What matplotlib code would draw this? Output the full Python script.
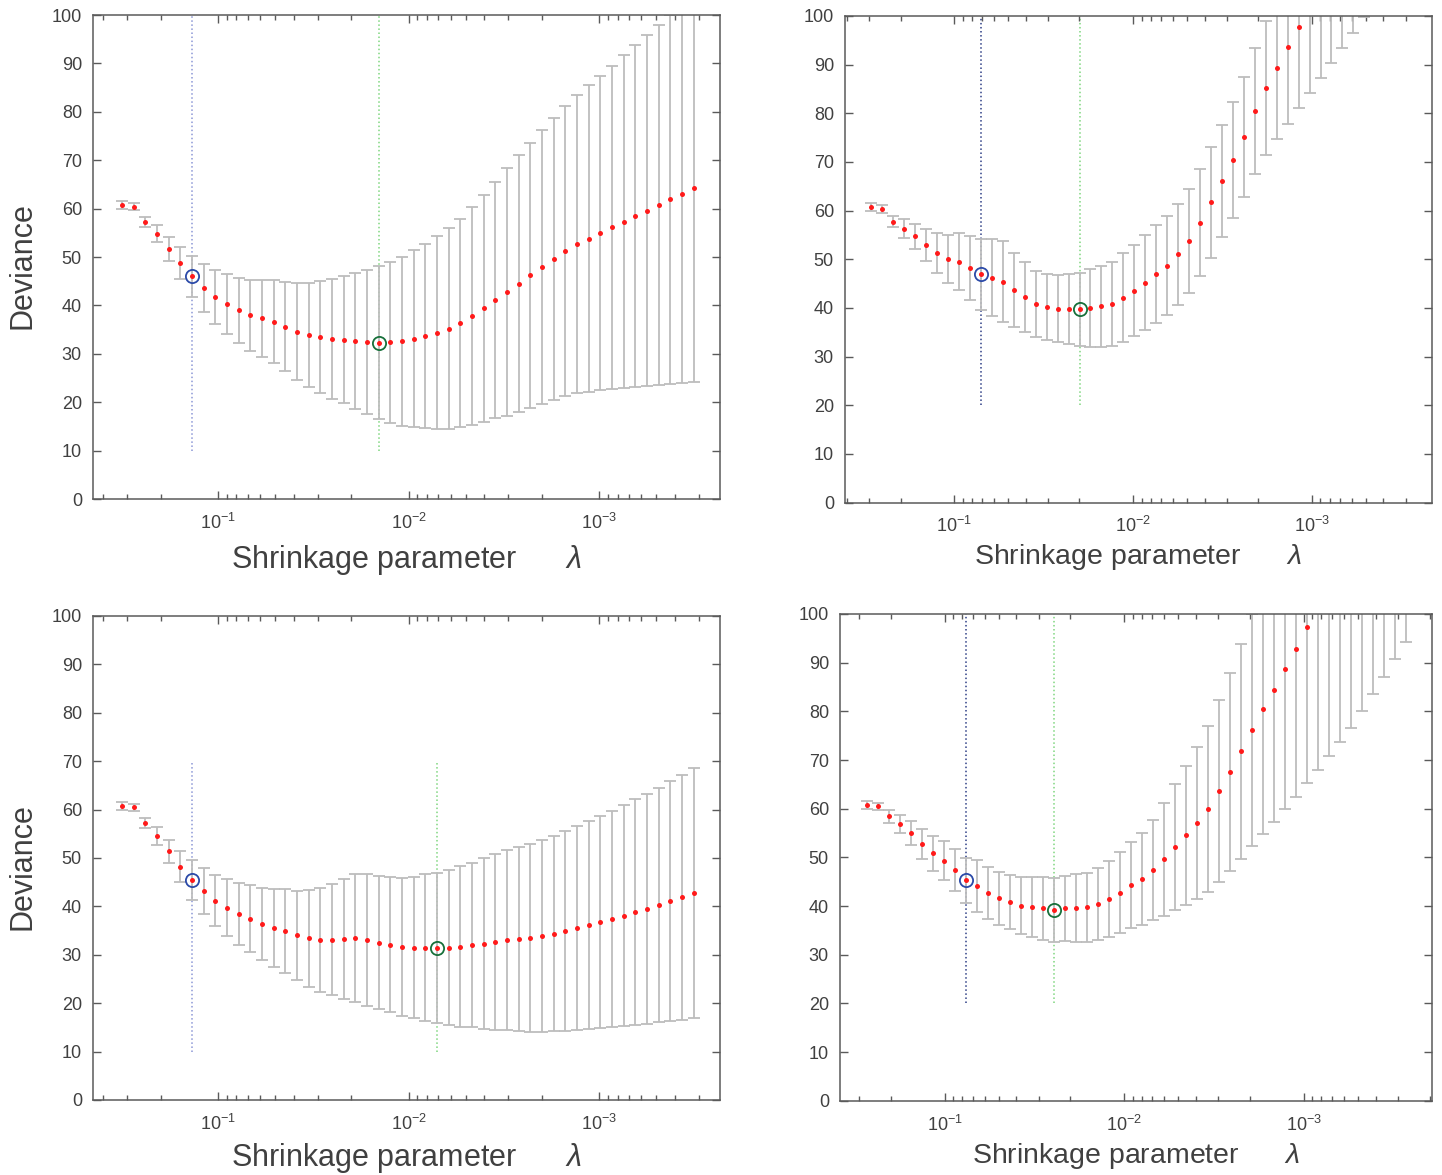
import numpy as np
import matplotlib
matplotlib.use("Agg")
import matplotlib.pyplot as plt
from matplotlib.ticker import LogLocator, NullFormatter, MultipleLocator

plt.rcParams['font.family'] = ['Liberation Sans', 'DejaVu Sans']
plt.rcParams['mathtext.fontset'] = 'custom'
plt.rcParams['mathtext.rm'] = 'Liberation Sans'
plt.rcParams['mathtext.it'] = 'Liberation Sans:italic'

# ---------------- data ----------------
# lambda grid of each fit: 50 values, ratio 1e-3, log-spaced from lambda_max
lam_max_a = 0.319   # top left
lam_max_b = 0.291   # top right
lam_max_c = 0.319   # bottom left
lam_max_d = 0.271   # bottom right

# cross-validated deviance (mean) and its standard error
dev_a = [60.7, 60.4, 57.2, 54.8, 51.7, 48.8, 46.0, 43.6, 41.7, 40.2,
         39.0, 38.0, 37.3, 36.6, 35.6, 34.6, 33.9, 33.5, 33.1, 32.9,
         32.7, 32.4, 32.3, 32.4, 32.6, 33.1, 33.7, 34.4, 35.2, 36.4,
         37.8, 39.4, 41.1, 42.8, 44.5, 46.2, 47.9, 49.6, 51.3, 52.7,
         53.8, 55.0, 56.1, 57.3, 58.5, 59.6, 60.8, 61.9, 63.1, 64.3]
se_a = [0.85, 0.75, 1.1, 1.8, 2.45, 3.35, 4.3, 5.0, 5.55, 6.2,
        6.75, 7.35, 7.95, 8.6, 9.25, 9.95, 10.75, 11.55, 12.35, 13.15,
        14.05, 14.85, 15.75, 16.65, 17.45, 18.25, 19.0, 19.85, 20.7, 21.55,
        22.5, 23.5, 24.45, 25.55, 26.55, 27.4, 28.3, 29.1, 30.0, 30.8,
        31.65, 32.5, 33.4, 34.35, 35.35, 36.25, 37.2, 38.1, 39.2, 40.2]

dev_b = [60.8, 60.4, 57.7, 56.3, 54.7, 52.9, 51.3, 50.1, 49.5, 48.2,
         46.9, 46.2, 45.4, 43.7, 42.2, 40.8, 40.1, 39.8, 39.8, 39.7,
         40.0, 40.3, 40.8, 42.1, 43.5, 45.2, 46.9, 48.7, 51.0, 53.8,
         57.5, 61.7, 66.1, 70.4, 75.1, 80.4, 85.2, 89.4, 93.6, 97.8,
         102.0, 106.2, 110.4, 114.6, 118.8, 123.0]
se_b = [0.8, 0.8, 1.15, 1.9, 2.5, 3.25, 4.05, 4.9, 5.85, 6.6,
        7.25, 7.9, 8.3, 7.55, 7.15, 6.85, 6.8, 6.9, 7.15, 7.55,
        7.95, 8.35, 8.7, 9.1, 9.35, 9.8, 10.05, 10.15, 10.45, 10.7,
        11.0, 11.35, 11.5, 11.85, 12.3, 12.95, 13.8, 14.6, 15.8, 16.8,
        17.8, 18.9, 20.0, 21.1, 22.2, 23.2]

dev_c = [60.8, 60.5, 57.2, 54.6, 51.4, 48.2, 45.5, 43.2, 41.2, 39.7,
         38.5, 37.5, 36.4, 35.5, 34.9, 34.0, 33.4, 33.1, 33.1, 33.3,
         33.4, 33.1, 32.5, 32.1, 31.7, 31.5, 31.5, 31.4, 31.5, 31.7,
         32.0, 32.3, 32.7, 33.1, 33.3, 33.5, 33.9, 34.4, 34.9, 35.5,
         36.1, 36.7, 37.4, 38.1, 38.8, 39.5, 40.3, 41.1, 41.9, 42.7]
se_c = [0.85, 0.75, 1.1, 1.85, 2.35, 3.2, 4.1, 4.75, 5.35, 5.9,
        6.4, 7.0, 7.5, 8.0, 8.6, 9.2, 9.95, 10.7, 11.5, 12.4,
        13.2, 13.6, 13.75, 14.0, 14.25, 14.65, 15.1, 15.55, 16.0, 16.55,
        17.0, 17.6, 18.2, 18.65, 19.0, 19.35, 19.75, 20.15, 20.6, 21.05,
        21.45, 21.9, 22.35, 22.8, 23.3, 23.8, 24.25, 24.8, 25.3, 25.8]

dev_d = [60.8, 60.5, 58.4, 56.8, 55.0, 52.8, 50.8, 49.3, 47.4, 45.3,
         44.1, 42.7, 41.6, 40.9, 40.1, 39.8, 39.5, 39.2, 39.5, 39.6,
         39.7, 40.4, 41.4, 42.7, 44.3, 45.6, 47.4, 49.6, 52.1, 54.5,
         57.1, 59.9, 63.6, 67.6, 71.8, 76.2, 80.4, 84.4, 88.6, 92.9,
         97.3, 101.7, 106.1, 110.5, 114.9, 119.3, 123.7, 128.1, 132.5, 136.9]
se_d = [0.85, 0.75, 1.3, 1.85, 2.45, 3.05, 3.55, 4.05, 4.35, 4.65,
        5.3, 5.3, 5.45, 5.55, 5.85, 6.15, 6.4, 6.55, 6.75, 6.9,
        7.15, 7.35, 7.85, 8.3, 8.85, 9.5, 10.35, 11.55, 12.95, 14.25,
        15.6, 17.1, 18.7, 20.35, 22.1, 23.9, 25.5, 27.1, 28.7, 30.4,
        32.1, 33.8, 35.3, 36.9, 38.3, 39.2, 40.1, 41.0, 41.7, 42.6]

# index of lambda at 1SE rule (blue) and at minimum deviance (green)
idx_1se = [6, 10, 6, 9]
idx_min = [22, 19, 27, 17]
# vertical extent of the dotted marker lines
vline_range = [(10, 100), (20, 100), (10, 70), (20, 100)]

# ---------------- figure ----------------
W, H = 1442, 1175
fig = plt.figure(figsize=(W / 100, H / 100), dpi=100)

# axes boxes in pixels: left, top, right, bottom
boxes = [(93, 15, 720, 499), (845, 16, 1432, 502.5),
         (93, 616, 720, 1100), (840, 614, 1432, 1100.7)]
xlims = [(0.453, 2.32e-4), (0.409, 2.14e-4), (0.453, 2.32e-4), (0.383, 1.94e-4)]
lab_size = [22, 20.5, 22, 20.5]
lab_y = [-0.1426, -0.126, -0.1364, -0.128]

panels = [(lam_max_a, dev_a, se_a), (lam_max_b, dev_b, se_b),
          (lam_max_c, dev_c, se_c), (lam_max_d, dev_d, se_d)]

txt = '#404040'
edge = '#5a5a5a'

for k, (lmax, dev, se) in enumerate(panels):
    l, t, r, b = boxes[k]
    ax = fig.add_axes([l / W, 1 - b / H, (r - l) / W, (b - t) / H])

    lam = np.logspace(np.log10(lmax), np.log10(lmax * 1e-3), 50)[:len(dev)]
    dev = np.array(dev)
    se = np.array(se)

    ax.errorbar(lam, dev, yerr=se, fmt='none', ecolor='#bdbdbd',
                elinewidth=1.3, capsize=4, capthick=1.3, zorder=2)
    ax.plot(lam, dev, 'o', color='#ff1a1a', ms=3.6, mec='none', zorder=3)

    i1, i2 = idx_1se[k], idx_min[k]
    y0, y1 = vline_range[k]
    blue_line = '#8c97d6' if k in (0, 2) else '#2e3f86'
    ax.plot([lam[i1]] * 2, [y0, y1], ':', color=blue_line, lw=1.1, zorder=1)
    ax.plot([lam[i2]] * 2, [y0, y1], ':', color='#7fd67f', lw=1.1, zorder=1)
    ax.plot(lam[i1], dev[i1], 'o', mfc='none', mec='#2b4aa8', ms=9.5, mew=1.3, zorder=4)
    ax.plot(lam[i2], dev[i2], 'o', mfc='none', mec='#17703a', ms=9.5, mew=1.3, zorder=4)

    ax.set_xscale('log')
    ax.set_xlim(*xlims[k])
    ax.set_ylim(0, 100)
    ax.yaxis.set_major_locator(MultipleLocator(10))
    ax.xaxis.set_major_locator(LogLocator(base=10))
    ax.xaxis.set_minor_locator(LogLocator(base=10, subs=np.arange(2, 10)))
    ax.xaxis.set_minor_formatter(NullFormatter())

    ax.tick_params(which='both', direction='in', top=True, right=True,
                   color=edge, labelcolor=txt, labelsize=13, pad=8)
    ax.tick_params(axis='x', which='major', pad=10)
    ax.tick_params(which='major', length=6, width=1)
    ax.tick_params(which='minor', length=3.5, width=1)
    for s in ax.spines.values():
        s.set_color(edge)
        s.set_linewidth(1.1)

    ax.set_xlabel('Shrinkage parameter      $\\lambda$', fontsize=lab_size[k], color=txt)
    ax.xaxis.label.set_verticalalignment('baseline')
    ax.xaxis.set_label_coords(0.5, lab_y[k])
    if k in (0, 2):
        ax.set_ylabel('Deviance', fontsize=22, color=txt)
        ax.yaxis.set_label_coords(-0.0893, 0.483)

fig.savefig('out.png', dpi=100)
